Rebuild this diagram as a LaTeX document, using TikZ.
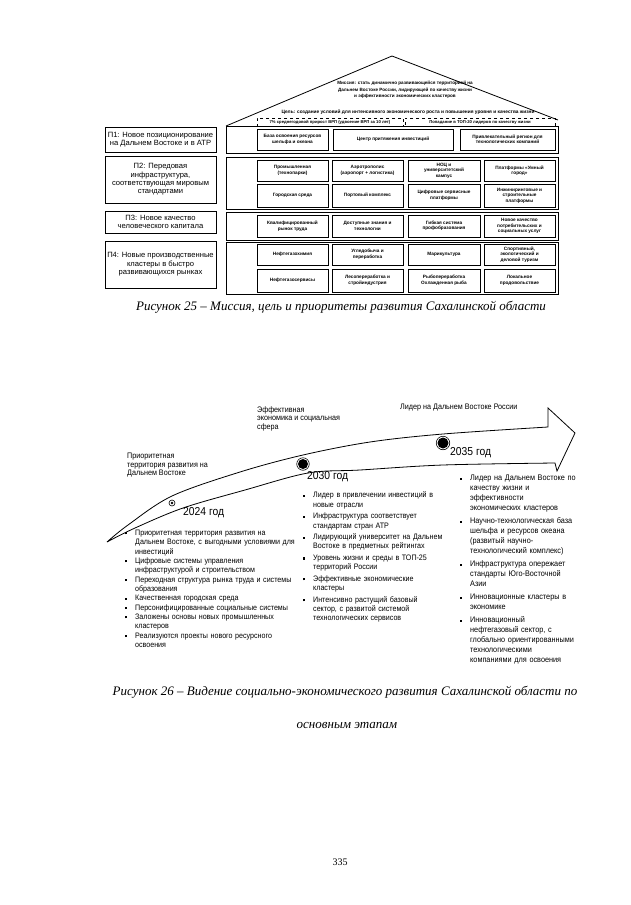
\documentclass[tikz,border=0pt]{standalone}
\usepackage{fontspec}
\setmainfont{Liberation Serif}
\newfontfamily\sansf{Liberation Sans}
\newfontfamily\narrowf[FakeStretch=0.9]{Liberation Sans}
\newcommand{\bit}[1]{\par\hangindent=11pt\hangafter=1\noindent\makebox[11pt][l]{\hspace{0.8pt}\rule[1.1pt]{2.1pt}{2.1pt}}#1}
\begin{document}
\begin{tikzpicture}[x=1pt,y=-1pt,
  cell/.style={draw, line width=0.8pt, align=center, inner sep=0.5pt, font=\sansf\bfseries\fontsize{4.7}{5.5}\selectfont},
  prio/.style={draw, line width=0.8pt, align=center, inner sep=0pt, font=\sansf\fontsize{7.6}{8.4}\selectfont},
  rowbox/.style={draw, line width=0.9pt, inner sep=0pt},
  dashbox/.style={draw, dashed, line width=0.5pt, inner sep=0pt, font=\sansf\bfseries\fontsize{4.2}{4.8}\selectfont},
  tinytext/.style={inner sep=0pt, align=center, font=\sansf\bfseries\fontsize{4.6}{6.6}\selectfont},
  lbl/.style={inner sep=0pt, align=left, anchor=north west, font=\narrowf\fontsize{8}{8.6}\selectfont},
  yearlbl/.style={inner sep=0pt, anchor=west, font=\narrowf\fontsize{11.5}{12}\selectfont},
  blist/.style={inner sep=0pt, anchor=north west, text width=200pt},
  capt/.style={inner sep=0pt, font=\itshape\fontsize{13}{15}\selectfont},
  dotnode/.style={circle, fill=black, inner sep=0pt},
  ringnode/.style={circle, draw, line width=0.6pt, inner sep=0pt},
]
\useasboundingbox (0,0) rectangle (631,905);
\fill[white] (0,0) rectangle (631,905);

% ---------- Figure 25 ----------
\coordinate (roofL) at (226,126);
\coordinate (roofT) at (392,56);
\coordinate (roofR) at (558,120);
\draw[line width=0.8pt] (roofL) -- (roofT) -- (roofR);
\node[tinytext] (mission) at (405,90) {Миссия: стать динамично развивающейся территорией на\\Дальнем Востоке России, лидирующей по качеству жизни\\и эффективности экономических кластеров};
\node[tinytext, font=\sansf\bfseries\fontsize{4.8}{6}\selectfont] (goal) at (408,112) {Цель: создание условий для интенсивного экономического роста и повышения уровня и качества жизни};
\node[dashbox, minimum width=146pt, minimum height=8pt] (g1) at (330,122) {7\% среднегодовой прирост ВРП (удвоение ВРП за 10 лет)};
\node[dashbox, minimum width=150pt, minimum height=8pt] (g2) at (480,122) {Попадание в ТОП-20 лидеров по качеству жизни};

% row containers
\node[rowbox, minimum width=332pt, minimum height=27pt] (r1) at (392,139.5) {};
\node[rowbox, minimum width=332pt, minimum height=52pt] (r2) at (392,183) {};
\node[rowbox, minimum width=332pt, minimum height=28pt] (r3) at (392,226) {};
\node[rowbox, minimum width=332pt, minimum height=52pt] (r4) at (392,268) {};

% priorities
\node[prio, minimum width=111pt, minimum height=25pt] (p1) at (160.5,139.5) {П1: Новое позиционирование\\на Дальнем Востоке и в АТР};
\node[prio, minimum width=111pt, minimum height=47pt] (p2) at (160.5,179.5) {П2: Передовая\\инфраструктура,\\соответствующая мировым\\стандартами};
\node[prio, minimum width=111pt, minimum height=22pt] (p3) at (160.5,222) {П3: Новое качество\\человеческого капитала};
\node[prio, minimum width=111pt, minimum height=47pt] (p4) at (160.5,264.5) {П4: Новые производственные\\кластеры в быстро\\развивающихся рынках};

% row 1 cells
\node[cell, minimum width=71pt, minimum height=21pt] (c11) at (292.5,139.5) {База освоения ресурсов\\шельфа и океана};
\node[cell, minimum width=120pt, minimum height=21pt] (c12) at (393,139.5) {Центр притяжения инвестиций};
\node[cell, minimum width=95pt, minimum height=21pt] (c13) at (507.5,139.5) {Привлекательный регион для\\технологических компаний};
% row 2
\node[cell, minimum width=71pt, minimum height=21pt] (c21) at (292.5,170.5) {Промышленная\\(технопарки)};
\node[cell, minimum width=71pt, minimum height=21pt] (c22) at (367.5,170.5) {Аэротрополис\\(аэропорт + логистика)};
\node[cell, minimum width=72pt, minimum height=21pt] (c23) at (444,170.5) {НОЦ и\\университетский\\кампус};
\node[cell, minimum width=71pt, minimum height=21pt] (c24) at (519.5,170.5) {Платформы «Умный\\город»};
\node[cell, minimum width=71pt, minimum height=23pt] (c25) at (292.5,195.5) {Городская среда};
\node[cell, minimum width=71pt, minimum height=23pt] (c26) at (367.5,195.5) {Портовый комплекс};
\node[cell, minimum width=72pt, minimum height=23pt] (c27) at (444,195.5) {Цифровые сервисные\\платформы};
\node[cell, minimum width=71pt, minimum height=23pt] (c28) at (519.5,195.5) {Инжиниринговые и\\строительные\\платформы};
% row 3
\node[cell, minimum width=71pt, minimum height=22pt] (c31) at (292.5,226) {Квалифицированный\\рынок труда};
\node[cell, minimum width=71pt, minimum height=22pt] (c32) at (367.5,226) {Доступные знания и\\технологии};
\node[cell, minimum width=72pt, minimum height=22pt] (c33) at (444,226) {Гибкая система\\профобразования};
\node[cell, minimum width=71pt, minimum height=22pt] (c34) at (519.5,226) {Новое качество\\потребительских и\\социальных услуг};
% row 4
\node[cell, minimum width=71pt, minimum height=21pt] (c41) at (292.5,254.5) {Нефтегазохимия};
\node[cell, minimum width=71pt, minimum height=21pt] (c42) at (367.5,254.5) {Угледобыча и\\переработка};
\node[cell, minimum width=72pt, minimum height=21pt] (c43) at (444,254.5) {Марикультура};
\node[cell, minimum width=71pt, minimum height=21pt] (c44) at (519.5,254.5) {Спортивный,\\экологический и\\деловой туризм};
\node[cell, minimum width=71pt, minimum height=23pt] (c45) at (292.5,280.5) {Нефтегазосервисы};
\node[cell, minimum width=71pt, minimum height=23pt] (c46) at (367.5,280.5) {Лесопереработка и\\стройиндустрия};
\node[cell, minimum width=72pt, minimum height=23pt] (c47) at (444,280.5) {Рыбопереработка\\Охлажденная рыба};
\node[cell, minimum width=71pt, minimum height=23pt] (c48) at (519.5,280.5) {Локальное\\продовольствие};

\node[capt] (cap25) at (341,307) {Рисунок 25 – Миссия, цель и приоритеты развития Сахалинской области};

% ---------- Figure 26 ----------
\coordinate (tail) at (107,542);
\coordinate (ua) at (548,427);
\coordinate (hb1) at (548,408);
\coordinate (tip) at (575,433);
\coordinate (hb2) at (557,471);
\coordinate (la) at (555,463);
\draw[line width=0.8pt, line join=miter]
  plot[smooth, tension=0.55] coordinates {(107,542) (128,525) (172,496) (240,472) (303,455) (370,442) (443,434) (548,427)}
  -- (hb1) -- (tip) -- (hb2) -- (la)
  -- plot[smooth, tension=0.55] coordinates {(555,463) (443,465) (360,470) (308,473) (245,490) (183,508) (135,528) (107,542)};

\node[lbl] (t1) at (127,453) {Приоритетная\\территория развития на\\Дальнем Востоке};
\node[lbl] (t2) at (257,406) {Эффективная\\экономика и социальная\\сфера};
\node[lbl] (t3) at (400,404) {Лидер на Дальнем Востоке России};

\node[ringnode, minimum size=6pt] (d1r) at (172,503) {};
\node[dotnode, minimum size=2.6pt] (d1) at (172,503) {};
\node[ringnode, minimum size=12.5pt] (d2r) at (303,464) {};
\node[dotnode, minimum size=10pt] (d2) at (303,464) {};
\node[ringnode, minimum size=13.5pt] (d3r) at (443,443) {};
\node[dotnode, minimum size=11pt] (d3) at (443,443) {};

\node[yearlbl] (y1) at (183,513) {2024 год};
\node[yearlbl] (y2) at (307,477) {2030 год};
\node[yearlbl] (y3) at (450,453) {2035 год};

\node[blist, font=\narrowf\fontsize{7.9}{9.33}\selectfont] (l1) at (124,526) {%
\bit{Приоритетная территория развития на\newline Дальнем Востоке, с выгодными условиями для\newline инвестиций}
\bit{Цифровые системы управления\newline инфраструктурой и строительством}
\bit{Переходная структура рынка труда и системы\newline образования}
\bit{Качественная городская среда}
\bit{Персонифицированные социальные системы}
\bit{Заложены основы новых промышленных\newline кластеров}
\bit{Реализуются проекты нового ресурсного\newline освоения}\par};

\node[blist, font=\narrowf\fontsize{7.9}{9.2}\selectfont] (l2) at (302,486) {\setlength{\parskip}{2.5pt}%
\bit{Лидер в привлечении инвестиций в\newline новые отрасли}
\bit{Инфраструктура соответствует\newline стандартам стран АТР}
\bit{Лидирующий университет на Дальнем\newline Востоке в предметных рейтингах}
\bit{Уровень жизни и среды в ТОП-25\newline территорий России}
\bit{Эффективные экономические\newline кластеры}
\bit{Интенсивно растущий базовый\newline сектор, с развитой системой\newline технологических сервисов}\par};

\node[blist, font=\narrowf\fontsize{8.1}{10}\selectfont] (l3) at (459,467.5) {\setlength{\parskip}{3pt}%
\bit{Лидер на Дальнем Востоке по\newline качеству жизни и\newline эффективности\newline экономических кластеров}
\bit{Научно-технологическая база\newline шельфа и ресурсов океана\newline (развитый научно-\newline технологический комплекс)}
\bit{Инфраструктура опережает\newline стандарты Юго-Восточной\newline Азии}
\bit{Инновационные кластеры в\newline экономике}
\bit{Инновационный\newline нефтегазовый сектор, с\newline глобально ориентированными\newline технологическими\newline компаниями для освоения}\par};

\node[capt] (cap26a) at (345,692) {Рисунок 26 – Видение социально-экономического развития Сахалинской области по};
\node[capt] (cap26b) at (347,725) {основным этапам};

\node[inner sep=0pt, font=\fontsize{10}{12}\selectfont] (pg) at (340,862) {335};
\end{tikzpicture}
\end{document}
